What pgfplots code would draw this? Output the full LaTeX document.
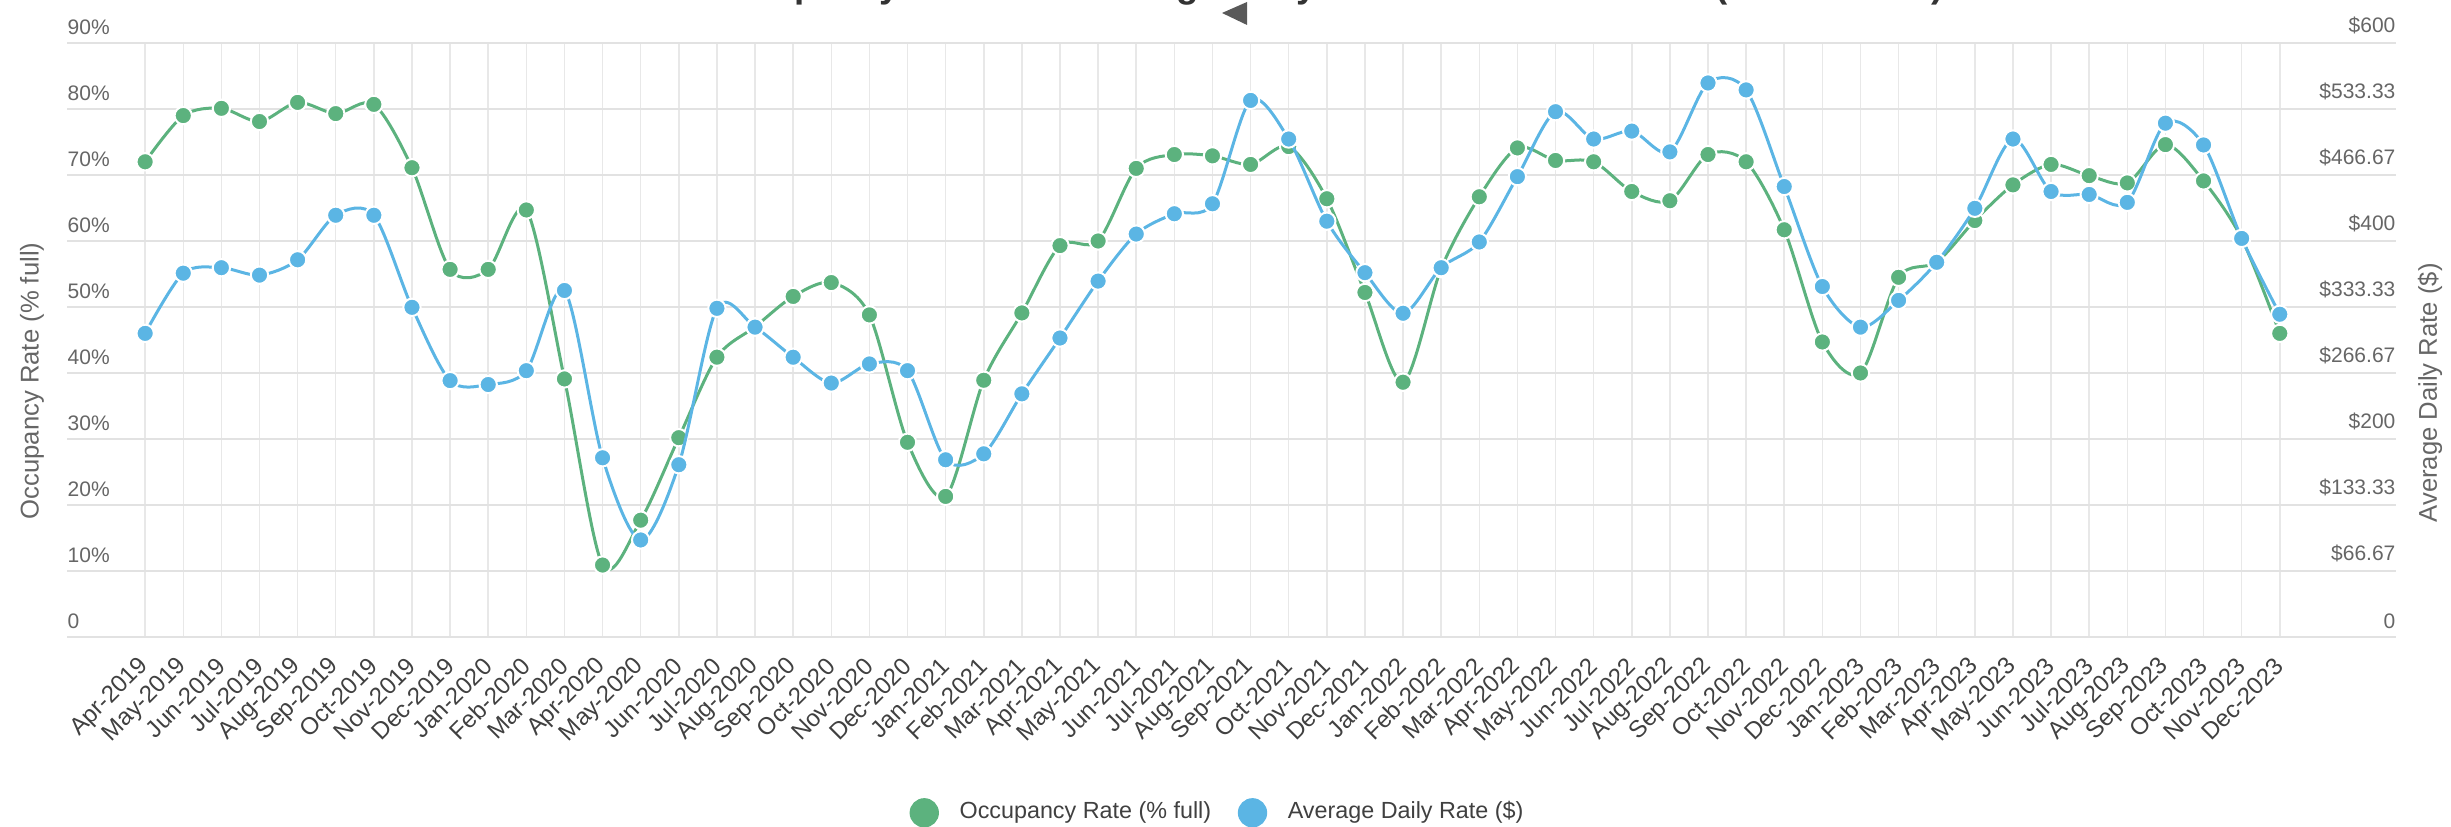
\documentclass[border=0pt]{standalone}
\usepackage{fontspec}
\setmainfont{Liberation Sans}
\usepackage{pgfplots}
\pgfplotsset{compat=1.18}
\definecolor{occ}{HTML}{5CB27E}
\definecolor{adr}{HTML}{5BB5E4}
\definecolor{gridc}{HTML}{E8E8E8}
\definecolor{gridh}{HTML}{E2E2E2}
\definecolor{lab}{HTML}{666666}

\pgfplotstableread{
i occ
0 72.0
1 79.0
2 80.1
3 78.1
4 81.0
5 79.3
6 80.7
7 71.1
8 55.7
9 55.7
10 64.7
11 39.1
12 10.9
13 17.7
14 30.2
15 42.4
16 47.0
17 51.6
18 53.7
19 48.8
20 29.5
21 21.3
22 38.9
23 49.1
24 59.3
25 60.0
26 71.0
27 73.1
28 72.9
29 71.6
30 74.3
31 66.4
32 52.2
33 38.6
34 55.8
35 66.7
36 74.1
37 72.2
38 72.0
39 67.5
40 66.1
41 73.1
42 72.0
43 61.7
44 44.7
45 40.0
46 54.5
47 56.8
48 63.1
49 68.5
50 71.6
51 69.9
52 68.8
53 74.6
54 69.1
55 60.4
56 46.0
}\occtable

\pgfplotstableread{
i adr
0 306.7
1 367.5
2 373
3 365.5
4 381
5 426
6 426
7 333
8 259
9 255
10 269
11 350
12 181
13 98
14 174
15 332
16 313
17 282.6
18 256.5
19 275.8
20 269
21 179
22 185
23 245.6
24 302
25 359.5
26 407
27 427.5
28 437.6
29 542
30 503
31 420
32 368
33 327
34 373
35 399
36 465
37 530.6
38 503
39 511
40 490
41 559.6
42 552.6
43 455
44 354
45 313
46 340
47 378.5
48 433
49 503
50 450
51 447
52 439
53 519
54 497
55 402.6
56 326
}\adrtable

\begin{document}
\begin{tikzpicture}
\useasboundingbox (0,0) rectangle (735.3pt,248.1pt);
\node[anchor=base west, font=\bfseries\fontsize{11}{13}\selectfont, text=black!80, inner sep=0pt] at (210.6pt,248.9pt) {Occupancy Rate and Average Daily Rate Trend Over Time (2019 -- 2023)};
\fill[black!65] (366.6pt,244.2pt) -- (374.1pt,247.5pt) -- (374.1pt,240.6pt) -- cycle;

\begin{axis}[
  at={(20.1pt,57pt)}, anchor=south west, scale only axis,
  width=698.7pt, height=178.2pt,
  xmin=-2.05, xmax=59.05, ymin=0, ymax=90,
  axis line style={draw=none}, major tick length=0pt, tick style={draw=none},
  xtick={0,...,56},
  xticklabels={Apr-2019,May-2019,Jun-2019,Jul-2019,Aug-2019,Sep-2019,Oct-2019,Nov-2019,Dec-2019,Jan-2020,Feb-2020,Mar-2020,Apr-2020,May-2020,Jun-2020,Jul-2020,Aug-2020,Sep-2020,Oct-2020,Nov-2020,Dec-2020,Jan-2021,Feb-2021,Mar-2021,Apr-2021,May-2021,Jun-2021,Jul-2021,Aug-2021,Sep-2021,Oct-2021,Nov-2021,Dec-2021,Jan-2022,Feb-2022,Mar-2022,Apr-2022,May-2022,Jun-2022,Jul-2022,Aug-2022,Sep-2022,Oct-2022,Nov-2022,Dec-2022,Jan-2023,Feb-2023,Mar-2023,Apr-2023,May-2023,Jun-2023,Jul-2023,Aug-2023,Sep-2023,Oct-2023,Nov-2023,Dec-2023},
  xticklabel style={yshift=-7.5pt, rotate=45, anchor=east, inner sep=0pt, font=\fontsize{7.2}{8}\selectfont, text=black!75},
  ytick={0,10,...,90},
  yticklabels={0,10\%,20\%,30\%,40\%,50\%,60\%,70\%,80\%,90\%},
  yticklabel style={anchor=south west, inner sep=0pt, yshift=2.4pt, font=\fontsize{6.3}{7}\selectfont, text=lab},
  xmajorgrids, ymajorgrids,
  x grid style={gridc, line width=0.45pt},
  y grid style={gridh, line width=0.65pt},
  ylabel={Occupancy Rate (\% full)},
  ylabel style={at={(axis description cs:-0.015,0.431)}, anchor=center, font=\fontsize{7.7}{9}\selectfont, text=lab},
  legend columns=2,
  legend style={at={(0.495,-0.296)}, anchor=center, draw=none, fill=none, font=\fontsize{7}{8}\selectfont, text=black!75,
     /tikz/every odd column/.append style={column sep=4.2pt},
     /tikz/every even column/.append style={column sep=6pt}},
  clip=false,
]
\addplot[occ, line width=0.9pt, smooth, tension=0.5, mark=*, mark size=2.6pt,
   mark options={fill=occ, draw=white, line width=0.6pt}, forget plot] table[x=i, y=occ] {\occtable};
\addlegendimage{legend image code/.code={\fill[occ] (4.2pt,0pt) circle (4.2pt);}}
\addlegendentry{Occupancy Rate (\% full)}
\addlegendimage{legend image code/.code={\fill[adr] (4.2pt,0pt) circle (4.2pt);}}
\addlegendentry{Average Daily Rate (\$)}
\end{axis}

\begin{axis}[
  at={(20.1pt,57pt)}, anchor=south west, scale only axis,
  width=698.7pt, height=178.2pt,
  xmin=-2.05, xmax=59.05, ymin=0, ymax=600,
  axis y line*=right, axis x line=none,
  axis line style={draw=none}, major tick length=0pt, tick style={draw=none},
  xtick=\empty,
  ytick={0,66.6667,133.3333,200,266.6667,333.3333,400,466.6667,533.3333,600},
  yticklabels={0,\$66.67,\$133.33,\$200,\$266.67,\$333.33,\$400,\$466.67,\$533.33,\$600},
  yticklabel style={anchor=south east, inner sep=0pt, yshift=2.4pt, font=\fontsize{6.3}{7}\selectfont, text=lab},
  ylabel={Average Daily Rate (\$)},
  ylabel style={at={(axis description cs:1.0146,0.411)}, anchor=center, font=\fontsize{7.7}{9}\selectfont, text=lab},
  clip=false,
]
\addplot[adr, line width=0.9pt, smooth, tension=0.5, mark=*, mark size=2.6pt,
   mark options={fill=adr, draw=white, line width=0.6pt}] table[x=i, y=adr] {\adrtable};
\end{axis}
\end{tikzpicture}
\end{document}
